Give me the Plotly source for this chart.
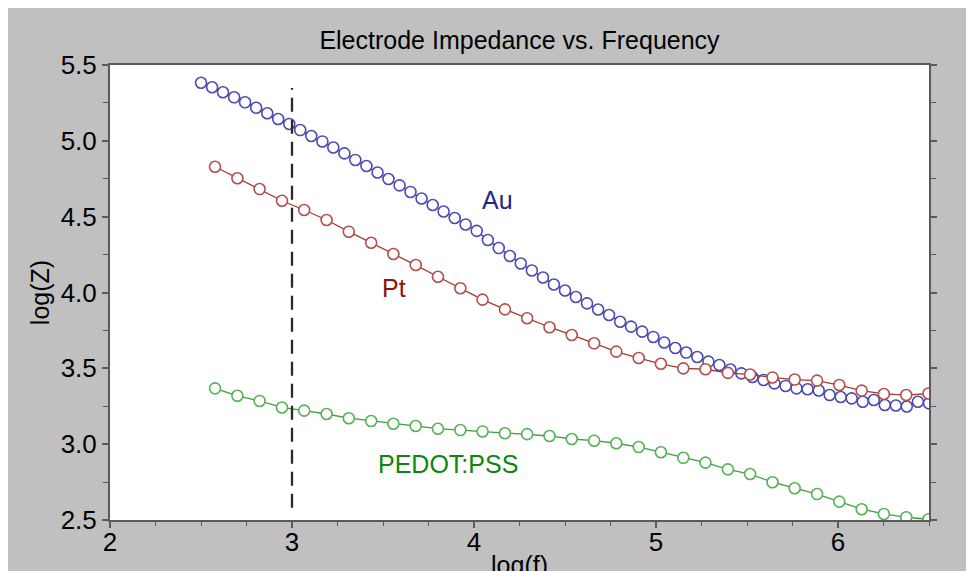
import plotly.graph_objects as go

# ---------------- data ----------------
au_logf = [2.500, 2.561, 2.621, 2.682, 2.742, 2.803, 2.864, 2.924, 2.985, 3.045,
           3.106, 3.167, 3.227, 3.288, 3.348, 3.409, 3.470, 3.530, 3.591, 3.651,
           3.712, 3.773, 3.833, 3.894, 3.954, 4.015, 4.076, 4.136, 4.197, 4.257,
           4.318, 4.379, 4.439, 4.500, 4.560, 4.621, 4.682, 4.742, 4.803, 4.863,
           4.924, 4.985, 5.045, 5.106, 5.166, 5.227, 5.288, 5.348, 5.409, 5.469,
           5.530, 5.591, 5.651, 5.712, 5.772, 5.833, 5.894, 5.954, 6.015, 6.075,
           6.136, 6.197, 6.257, 6.318, 6.378, 6.439, 6.500]
au_logz = [5.383, 5.353, 5.320, 5.287, 5.254, 5.218, 5.182, 5.144, 5.111, 5.071,
           5.032, 4.996, 4.956, 4.917, 4.874, 4.834, 4.791, 4.748, 4.706, 4.663,
           4.620, 4.577, 4.534, 4.491, 4.448, 4.406, 4.346, 4.293, 4.241, 4.191,
           4.145, 4.099, 4.053, 4.013, 3.970, 3.928, 3.888, 3.852, 3.807, 3.775,
           3.742, 3.707, 3.670, 3.634, 3.604, 3.575, 3.544, 3.522, 3.492, 3.467,
           3.443, 3.423, 3.401, 3.384, 3.368, 3.362, 3.354, 3.324, 3.311, 3.302,
           3.280, 3.291, 3.258, 3.255, 3.248, 3.280, 3.269]

pt_logf = [2.577, 2.700, 2.822, 2.945, 3.067, 3.190, 3.312, 3.435, 3.557, 3.680,
           3.802, 3.925, 4.047, 4.170, 4.292, 4.415, 4.537, 4.660, 4.782, 4.905,
           5.027, 5.150, 5.272, 5.395, 5.517, 5.640, 5.762, 5.885, 6.007, 6.130,
           6.252, 6.375, 6.497]
pt_logz = [4.829, 4.753, 4.682, 4.605, 4.544, 4.478, 4.401, 4.328, 4.254, 4.181,
           4.104, 4.028, 3.953, 3.889, 3.830, 3.771, 3.720, 3.665, 3.610, 3.568,
           3.530, 3.500, 3.494, 3.470, 3.459, 3.440, 3.426, 3.419, 3.390, 3.353,
           3.331, 3.324, 3.334]

pedot_logf = pt_logf
pedot_logz = [3.368, 3.319, 3.285, 3.242, 3.221, 3.199, 3.171, 3.153, 3.135, 3.120,
              3.102, 3.093, 3.084, 3.072, 3.066, 3.054, 3.034, 3.023, 3.006, 2.981,
              2.947, 2.910, 2.878, 2.834, 2.803, 2.749, 2.709, 2.671, 2.621, 2.571,
              2.540, 2.518, 2.505]

series_names = ["Au", "Pt", "PEDOT:PSS"]
label_x = [4.127, 3.56, 3.857]
label_y = [4.61, 4.03, 2.87]

marker_line_colors = ["#4b4bb4", "#b4504a", "#55b255"]
line_colors = ["#3a3a9c", "#a23a34", "#3f9f3f"]
label_colors = ["#24248c", "#8a1212", "#0b870b"]

cutoff_logf = 3.0
cutoff_span = [2.58, 5.348]

x_range = [2, 6.5]
y_range = [2.5, 5.5]

FONT = "Liberation Sans, Arial, sans-serif"

# ---------------- figure ----------------
fig = go.Figure()
xs = [au_logf, pt_logf, pedot_logf]
ys = [au_logz, pt_logz, pedot_logz]
for name, x, y, mc, lc in zip(series_names, xs, ys, marker_line_colors, line_colors):
    fig.add_trace(go.Scatter(
        x=x, y=y, mode="lines+markers", name=name,
        line=dict(color=lc, width=1.3),
        marker=dict(symbol="circle", size=11, color="white",
                    line=dict(color=mc, width=1.6)),
        showlegend=False,
    ))

for name, lx, ly, c in zip(series_names, label_x, label_y, label_colors):
    fig.add_annotation(x=lx, y=ly, text=name, showarrow=False,
                       font=dict(family=FONT, size=25, color=c))

# dashed vertical marker at log(f) = 3
fig.add_shape(type="line", xref="x", yref="y",
              x0=cutoff_logf, x1=cutoff_logf, y0=cutoff_span[0], y1=cutoff_span[1],
              line=dict(color="#2a2a2a", width=2.3, dash="14px,8px"))

axis_common = dict(
    showgrid=False, zeroline=False, showline=True, linecolor="#5a5a5a", linewidth=2,
    ticks="outside", tickcolor="#5a5a5a", tickwidth=1.5, ticklen=6,
    tickfont=dict(family=FONT, size=26, color="black"), automargin=False,
)

fig.update_layout(
    width=974, height=571,
    margin=dict(l=102, r=53, t=57, b=59),
    paper_bgcolor="#c0c0c0", plot_bgcolor="white",
    title=dict(text="Electrode Impedance vs. Frequency", x=0.5, xref="paper",
               y=0.944, yanchor="middle", xanchor="center",
               font=dict(family=FONT, size=25, color="black")),
    xaxis=dict(range=x_range, tick0=2, dtick=1, mirror=True, ticklabelstandoff=-8,
               minor=dict(dtick=0.25, ticks="outside", ticklen=4, tickcolor="#5a5a5a", tickwidth=1),
               title=dict(text="log(f)", standoff=0, font=dict(family=FONT, size=25, color="black")),
               **axis_common),
    yaxis=dict(range=y_range, tick0=2.5, dtick=0.5, tickformat=".1f", mirror="ticks",
               minor=dict(dtick=0.25, ticks="outside", ticklen=5, tickcolor="#5a5a5a", tickwidth=1),
               title=dict(text="log(Z)", standoff=4, font=dict(family=FONT, size=25, color="black")),
               **axis_common),
)

fig.write_html("out.html")
